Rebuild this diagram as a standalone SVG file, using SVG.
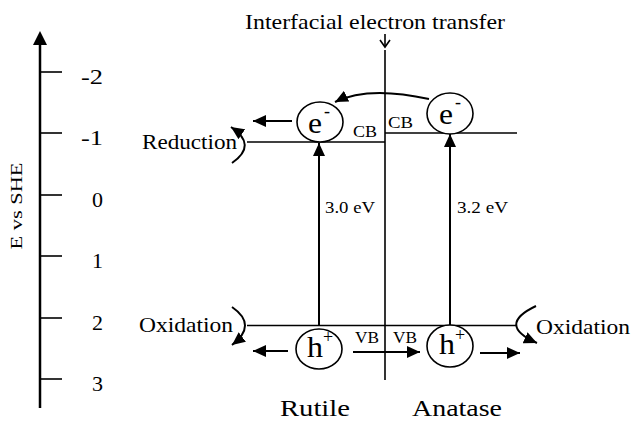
<svg xmlns="http://www.w3.org/2000/svg" width="633" height="423" viewBox="0 0 633 423" font-family="'Liberation Serif', 'Times New Roman', Times, serif">
<style>
text{font-family:'Liberation Serif','Times New Roman',Times,serif;fill:#000}
.ln{stroke:#000;stroke-width:1.6;fill:none}
.ar{stroke:#000;stroke-width:2;fill:none;marker-end:url(#ah)}
.cir{stroke:#000;stroke-width:1.6;fill:#fff}
.num{font-size:22px;text-anchor:end}
.lbl{font-size:22px}
.sm{font-size:16px}
.big{font-size:30px}
.sup{font-size:18px}
</style>
<defs>
<marker id="ah" markerUnits="userSpaceOnUse" markerWidth="14" markerHeight="12" refX="13" refY="6" orient="auto" viewBox="0 0 14 12">
<path d="M0,0 L13,6 L0,12 z" fill="#000"/>
</marker>
</defs>
<rect width="633" height="423" fill="#fff"/>

<g id="axis">
<line x1="40" y1="408" x2="40" y2="42" stroke="#000" stroke-width="2.5"/>
<polygon points="40,31 33,45 47,45" fill="#000"/>
<g class="ln">
<line x1="40" y1="72" x2="62" y2="72"/>
<line x1="40" y1="133" x2="62" y2="133"/>
<line x1="40" y1="195" x2="62" y2="195"/>
<line x1="40" y1="256" x2="62" y2="256"/>
<line x1="40" y1="318" x2="62" y2="318"/>
<line x1="40" y1="379" x2="62" y2="379"/>
</g>
<text class="num" x="103" y="84" textLength="22" lengthAdjust="spacingAndGlyphs">-2</text>
<text class="num" x="103" y="145" textLength="22" lengthAdjust="spacingAndGlyphs">-1</text>
<text class="num" x="103" y="207">0</text>
<text class="num" x="103" y="268">1</text>
<text class="num" x="103" y="330">2</text>
<text class="num" x="103" y="391">3</text>
<text transform="translate(22,206) rotate(-90)" font-size="17" text-anchor="middle" textLength="87" lengthAdjust="spacingAndGlyphs">E vs SHE</text>
</g>

<g id="title">
<text x="245" y="29" font-size="21" textLength="260" lengthAdjust="spacingAndGlyphs">Interfacial electron transfer</text>
<line class="ln" x1="385" y1="34" x2="385" y2="47"/>
<polyline class="ln" points="380,40 385,47 390,40"/>
</g>

<g id="interface">
<line class="ln" x1="385" y1="50" x2="385" y2="380"/>
</g>

<g id="rutile-bands">
<line class="ln" x1="247" y1="142" x2="385" y2="142"/>
<text class="sm" x="353" y="137" textLength="24" lengthAdjust="spacingAndGlyphs">CB</text>
<text class="sm" x="355" y="343" textLength="24" lengthAdjust="spacingAndGlyphs">VB</text>
<text class="sm" x="325" y="213" textLength="50" lengthAdjust="spacingAndGlyphs">3.0 eV</text>
<text x="280" y="416" font-size="24" textLength="70" lengthAdjust="spacingAndGlyphs">Rutile</text>
</g>

<g id="anatase-bands">
<line class="ln" x1="385" y1="133" x2="517" y2="133"/>
<text class="sm" x="388" y="128" textLength="25" lengthAdjust="spacingAndGlyphs">CB</text>
<text class="sm" x="393" y="343" textLength="24" lengthAdjust="spacingAndGlyphs">VB</text>
<text class="sm" x="457" y="213" textLength="51" lengthAdjust="spacingAndGlyphs">3.2 eV</text>
<text x="412" y="416" font-size="24" textLength="90" lengthAdjust="spacingAndGlyphs">Anatase</text>
</g>

<g id="valence-band">
<line class="ln" x1="247" y1="325.5" x2="516" y2="325.5"/>
</g>

<g id="connectors">
<line class="ar" x1="319" y1="326" x2="319" y2="143"/>
<line class="ar" x1="450" y1="326" x2="450" y2="134"/>
<line class="ar" x1="292" y1="121" x2="253" y2="121"/>
<path class="ar" d="M429,99 Q368,85.5 335,102"/>
<line class="ar" x1="288" y1="351" x2="253" y2="351"/>
<line class="ar" x1="353" y1="352" x2="420" y2="352"/>
<line class="ar" x1="480" y1="353" x2="520" y2="353"/>
<path class="ar" d="M232,163 Q258,145 231,127"/>
<path class="ar" d="M232,307 Q258,325 232,345"/>
<path class="ar" d="M536,306 Q496,325 537,343"/>
</g>

<g id="reduction">
<text class="lbl" x="142" y="149" textLength="95" lengthAdjust="spacingAndGlyphs">Reduction</text>
</g>
<g id="oxidation-left">
<text class="lbl" x="139" y="332" textLength="94" lengthAdjust="spacingAndGlyphs">Oxidation</text>
</g>
<g id="oxidation-right">
<text class="lbl" x="536" y="334" textLength="94" lengthAdjust="spacingAndGlyphs">Oxidation</text>
</g>

<g id="electron-rutile">
<ellipse class="cir" cx="320" cy="122" rx="23" ry="20"/>
<text class="big" x="308" y="133" textLength="14" lengthAdjust="spacingAndGlyphs">e</text>
<text class="sup" x="324" y="117">-</text>
</g>
<g id="electron-anatase">
<ellipse class="cir" cx="450" cy="113.5" rx="23" ry="20.5"/>
<text class="big" x="439" y="124" textLength="14" lengthAdjust="spacingAndGlyphs">e</text>
<text class="sup" x="455" y="108">-</text>
</g>
<g id="hole-rutile">
<ellipse class="cir" cx="319" cy="349" rx="23" ry="20"/>
<text class="big" x="307" y="357" textLength="16" lengthAdjust="spacingAndGlyphs">h</text>
<text class="sup" x="323" y="343">+</text>
</g>
<g id="hole-anatase">
<ellipse class="cir" cx="450" cy="346" rx="23" ry="21"/>
<text class="big" x="439" y="354" textLength="16" lengthAdjust="spacingAndGlyphs">h</text>
<text class="sup" x="455" y="341">+</text>
</g>
</svg>
